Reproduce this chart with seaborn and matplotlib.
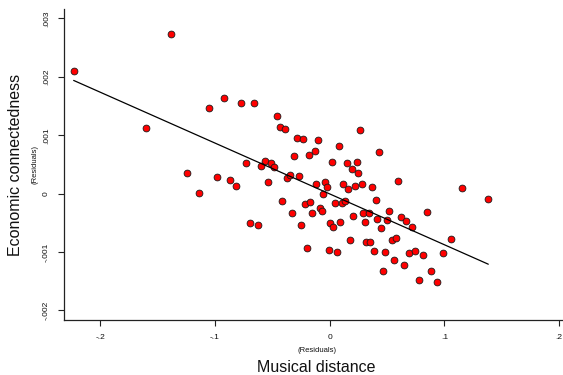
import numpy as np
import pandas as pd
import matplotlib
matplotlib.use("Agg")
import matplotlib.pyplot as plt
import seaborn as sns

# residuals
musical_distance = [
    -0.2230, -0.1380, -0.1600, -0.1051, -0.0921, -0.0775, -0.0662, -0.0459, -0.0436, -0.0387,
    -0.0287, -0.0233, -0.0308, -0.0183, -0.0732, -0.0566, -0.0596, -0.0511, -0.0483, -0.1240,
    -0.1136, -0.0982, -0.0866, -0.0819, -0.0537, -0.0369, -0.0348, -0.0270, -0.0413, -0.0326,
    -0.0215, -0.0167, -0.0694, -0.0627, -0.0250, -0.0198, -0.0154, -0.0099, 0.0264, -0.0131,
    0.0078, 0.0432, 0.0017, 0.0148, 0.0235, 0.0192, 0.0249, -0.0117, -0.0041, -0.0024,
    -0.0058, 0.0118, 0.0162, 0.0220, 0.0279, 0.0368, 0.0598, 0.1155, 0.1382, 0.0046,
    0.0105, 0.0133, 0.0401, -0.0087, -0.0070, 0.0519, 0.0845, 0.0293, 0.0340, 0.0206,
    0.0621, 0.0667, 0.0415, 0.0502, 0.0307, 0.0003, 0.0031, 0.0092, 0.0717, 0.0447,
    0.0177, 0.0319, 0.0354, 0.0540, 0.0580, 0.1059, -0.0009, 0.0064, 0.0386, 0.0484,
    0.0691, 0.0746, 0.0810, 0.0990, 0.0560, 0.0647, 0.0467, 0.0885, 0.0778, 0.0932,
]
economic_connectedness = [
    0.002092, 0.002733, 0.001121, 0.001464, 0.001641, 0.001543, 0.001543, 0.001327, 0.001138, 0.001109,
    0.000960, 0.000938, 0.000641, 0.000663, 0.000531, 0.000555, 0.000470, 0.000526, 0.000463, 0.000360,
    0.000007, 0.000291, 0.000240, 0.000127, 0.000195, 0.000269, 0.000326, 0.000309, -0.000125, -0.000331,
    -0.000177, -0.000151, -0.000502, -0.000531, -0.000531, -0.000936, -0.000339, 0.000921, 0.001097, 0.000737,
    0.000813, 0.000720, 0.000538, 0.000531, 0.000549, 0.000429, 0.000355, 0.000161, 0.000201, 0.000115,
    0.000000, 0.000161, 0.000081, 0.000137, 0.000166, 0.000120, 0.000223, 0.000098, -0.000086, -0.000165,
    -0.000165, -0.000125, -0.000113, -0.000250, -0.000291, -0.000291, -0.000314, -0.000336, -0.000331, -0.000387,
    -0.000405, -0.000463, -0.000439, -0.000456, -0.000485, -0.000497, -0.000566, -0.000490, -0.000566, -0.000593,
    -0.000799, -0.000823, -0.000823, -0.000799, -0.000759, -0.000771, -0.000970, -0.000994, -0.000987, -0.000994,
    -0.001011, -0.000977, -0.001051, -0.001022, -0.001137, -0.001222, -0.001320, -0.001325, -0.001485, -0.001514,
]

x_ticks = [-0.2, -0.1, 0, 0.1, 0.2]
x_tick_labels = ["-.2", "-.1", "0", ".1", ".2"]
y_ticks = [-0.002, -0.001, 0, 0.001, 0.002, 0.003]
y_tick_labels = ["-.002", "-.001", "0", ".001", ".002", ".003"]

df = pd.DataFrame({"musical": musical_distance, "econ": economic_connectedness})

sns.set_style("ticks")
plt.rcParams["font.family"] = ["Liberation Sans", "DejaVu Sans"]
plt.rcParams["text.color"] = "#111111"
plt.rcParams["xtick.color"] = "#222222"
plt.rcParams["ytick.color"] = "#222222"

fig = plt.figure(figsize=(5.63, 3.75), dpi=100)
ax = fig.add_axes([0.1137, 0.1467, 0.8845, 0.8285])

sns.regplot(data=df, x="musical", y="econ", ax=ax, ci=None, truncate=True,
            scatter_kws=dict(s=24, color="#ff0000", edgecolor="#1a1a1a", linewidths=0.6, alpha=1),
            line_kws=dict(color="black", linewidth=0.9))

ax.set_xlim(-0.2314, 0.2024)
ax.set_ylim(-0.002164, 0.003156)
ax.set_xticks(x_ticks)
ax.set_xticklabels(x_tick_labels, fontsize=6)
ax.set_yticks(y_ticks)
ax.set_yticklabels(y_tick_labels, fontsize=6, rotation=90, va="center")
ax.tick_params(axis="both", length=4, width=0.8, pad=6, labelcolor="#111111")
ax.set_xlabel("")
ax.set_ylabel("")
sns.despine(ax=ax)
for side in ["left", "bottom"]:
    ax.spines[side].set_linewidth(0.9)
    ax.spines[side].set_color("#222222")

fig.text(0.5626, 1 - 350.7 / 375, "(Residuals)", fontsize=5.5, ha="center", va="center")
fig.text(0.5626, 1 - 367 / 375, "Musical distance", fontsize=11.5, ha="center", va="center")
fig.text(16 / 563, 1 - 165 / 375, "Economic connectedness", fontsize=11.5,
         rotation=90, ha="center", va="center")
fig.text(35 / 563, 1 - 165 / 375, "(Residuals)", fontsize=5.5,
         rotation=90, ha="center", va="center")

fig.savefig("out.png", dpi=100)
plt.close(fig)
